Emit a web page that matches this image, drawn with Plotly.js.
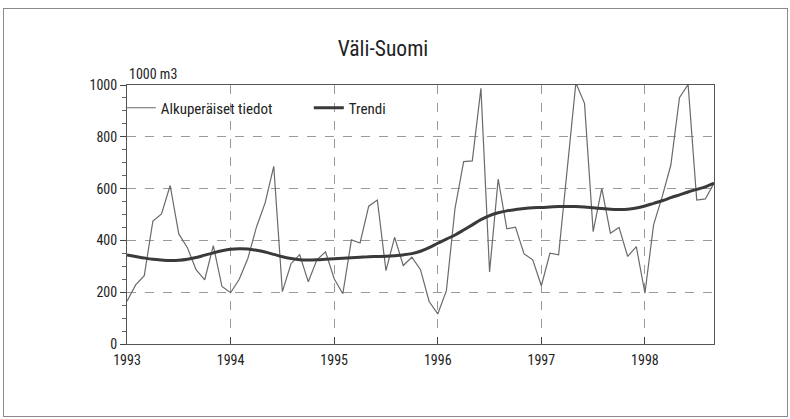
<!DOCTYPE html>
<html>
<head>
<meta charset="utf-8">
<script src="https://cdn.plot.ly/plotly-3.0.1.min.js"></script>
<style>
  html, body { margin: 0; padding: 0; background: #ffffff; }
  #frame { position: absolute; left: 3px; top: 8px; width: 783px; height: 407px; border: 1px solid #8a8a8a; }
  #chart { position: absolute; left: 0; top: 0; width: 790px; height: 419px; }
</style>
</head>
<body>
<div id="frame"></div>
<div id="chart"></div>
<script>
// Monthly observations Jan 1993 – Sep 1998 (1000 m3)
const years = [1993, 1994, 1995, 1996, 1997, 1998];
const original = [
  165, 228, 264, 475, 502, 612, 425, 372, 287, 248, 380, 222,
  198, 250, 330, 452, 545, 686, 202, 310, 345, 240, 325, 356,
  252, 194, 402, 390, 532, 556, 283, 412, 303, 335, 287, 164,
  116, 206, 524, 704, 707, 987, 278, 637, 445, 451, 348, 325,
  225, 351, 344, 670, 1008, 929, 434, 601, 428, 450, 338, 376,
  196, 460, 569, 691, 951, 1002, 556, 560, 621
];
const trend = [
  344, 338, 332, 327, 324, 322, 323, 327, 334, 343, 352, 360,
  366, 368, 367, 362, 355, 346, 337, 330, 325, 324, 325, 327,
  329, 331, 333, 335, 337, 338, 339, 341, 344, 349, 358, 372,
  389, 405, 421, 440, 460, 480, 496, 507, 514, 519, 523, 526,
  527, 529, 531, 531, 531, 529, 526, 523, 520, 519, 520, 525,
  533, 543, 553, 565, 576, 587, 597, 607, 621
];
const yTicks = [0, 200, 400, 600, 800, 1000];
const seriesNames = ['Alkuperäiset tiedot', 'Trendi'];
const chartTitle = 'Väli-Suomi';
const unitLabel = '1000 m3';

// time positions: year + (month-1)/12
const t = original.map((_, i) => years[0] + i / 12);

const FONT = '"Liberation Sans Narrow", "Arial Narrow", "Roboto Condensed", "DejaVu Sans Condensed", sans-serif';

const traces = [
  { x: t, y: original, type: 'scatter', mode: 'lines', name: seriesNames[0],
    line: { color: '#6a6a6a', width: 1.2 } },
  { x: t, y: trend, type: 'scatter', mode: 'lines', name: seriesNames[1],
    line: { color: '#3a3a3a', width: 3, shape: 'spline' } }
];

const layout = {
  width: 790, height: 419,
  margin: { l: 127, r: 76, t: 85, b: 75 },
  paper_bgcolor: 'rgba(0,0,0,0)',
  plot_bgcolor: '#ffffff',
  font: { family: FONT, size: 14, color: '#222' },
  showlegend: true,
  legend: {
    orientation: 'h', x: -0.0105, y: 0.975, xanchor: 'left', yanchor: 'top',
    bgcolor: 'rgba(0,0,0,0)', font: { family: FONT, size: 15, color: '#222' },
    itemwidth: 30, entrywidth: 143, entrywidthmode: 'pixels'
  },
  title: { text: chartTitle, font: { family: FONT, size: 21.5, color: '#222' },
           xref: 'container', x: 383 / 790, xanchor: 'center',
           yref: 'container', y: 1 - 48 / 419, yanchor: 'middle' },
  xaxis: {
    range: [years[0], years[0] + (original.length - 1) / 12],
    tickmode: 'array', tickvals: years, ticktext: years.map(String),
    ticks: 'inside', ticklen: 7, tickcolor: '#444',
    showgrid: true, gridcolor: '#9a9a9a', griddash: 'dash', gridwidth: 1,
    showline: true, linecolor: '#555', linewidth: 1, mirror: true,
    zeroline: false, tickfont: { family: FONT, size: 14, color: '#222' },
    ticklabelstandoff: 3
  },
  yaxis: {
    range: [0, 1000],
    tickmode: 'array', tickvals: yTicks, ticktext: yTicks.map(String),
    ticks: 'outside', ticklen: 6, tickcolor: '#444',
    minor: { dtick: 50, tick0: 0, ticks: 'outside', ticklen: 4, tickcolor: '#666', showgrid: false },
    showgrid: true, gridcolor: '#9a9a9a', griddash: 'dash', gridwidth: 1,
    showline: true, linecolor: '#555', linewidth: 1, mirror: true,
    zeroline: false, tickfont: { family: FONT, size: 14, color: '#222' }
  },
  annotations: [
    { text: unitLabel, xref: 'paper', yref: 'paper', x: 0, y: 1, xanchor: 'left', yanchor: 'bottom',
      yshift: 1, showarrow: false, font: { family: FONT, size: 14, color: '#222' } }
  ]
};

Plotly.newPlot('chart', traces, layout, { displayModeBar: false, staticPlot: true });
</script>
</body>
</html>
